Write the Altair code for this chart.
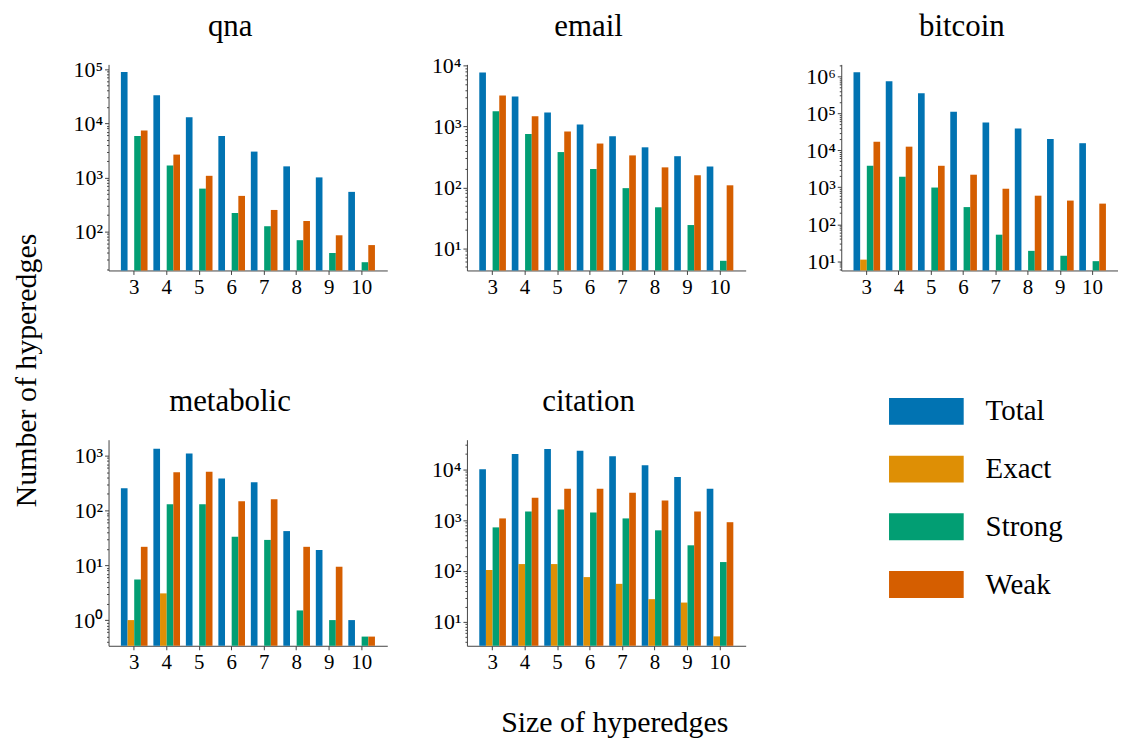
import math
import altair as alt
import pandas as pd

FONT = "Liberation Serif"

sizes = [3, 4, 5, 6, 7, 8, 9, 10]
series = ["Total", "Exact", "Strong", "Weak"]
colors = ["#0173b2", "#de8f05", "#029e73", "#d55e00"]

qna_total = [89000, 33000, 13000, 5800, 3000, 1600, 1000, 540]
qna_exact = [None, None, None, None, None, None, None, None]
qna_strong = [5800, 1660, 620, 220, 125, 69, 40, 27]
qna_weak = [7400, 2640, 1070, 455, 250, 156, 85, 56]

email_total = [7700, 3100, 1700, 1080, 690, 455, 325, 220]
email_exact = [None, None, None, None, None, None, None, None]
email_strong = [1780, 750, 380, 200, 97, 47, 24, 6.2]
email_weak = [3250, 1470, 830, 525, 335, 213, 158, 108]

bitcoin_total = [1280000, 740000, 350000, 110000, 56000, 39000, 20000, 15500]
bitcoin_exact = [11, None, None, None, None, None, None, None]
bitcoin_strong = [3800, 1920, 980, 290, 52, 19, 14, 10]
bitcoin_weak = [17000, 12500, 3800, 2180, 910, 590, 435, 360]

metabolic_total = [253, 1340, 1090, 383, 325, 42, 19, 1]
metabolic_exact = [1, 3.07, None, None, None, None, None, None]
metabolic_strong = [5.5, 130, 130, 33, 29, 1.5, 1, 0.5]
metabolic_weak = [21.7, 495, 510, 147, 160, 21.7, 9.4, 0.5]

citation_total = [10000, 20000, 25000, 23000, 18000, 12000, 7000, 4150]
citation_exact = [105, 137, 137, 76, 56, 28, 24, 5.2]
citation_strong = [720, 1480, 1620, 1410, 1080, 630, 320, 150]
citation_weak = [1080, 2750, 4150, 4150, 3450, 2420, 1480, 910]

PANEL_H = 207
Y_LABEL_SIZE = 22

L = "(log(datum.value)/LN10)"
IS_MAJOR = f"abs({L} - round({L})) < 0.001"
SUP = ["⁰", "¹", "²", "³", "⁴", "⁵", "⁶"]
major_label = "''"
for e in range(len(SUP) - 1, -1, -1):
    major_label = f"round({L}) == {e} ? '10{SUP[e]}' : ({major_label})"
label_expr = f"{IS_MAJOR} ? ({major_label}) : ''"


def log_ticks(lo, hi):
    vals = []
    for e in range(-2, 8):
        for m in range(1, 10):
            v = m * 10.0 ** e
            v = float(f"{v:.6g}")
            if lo <= v <= hi:
                vals.append(v)
    return vals


def panel(name, total, exact, strong, weak, domain, width=280):
    rows = []
    for s, vals in zip(series, [total, exact, strong, weak]):
        for k, v in zip(sizes, vals):
            if v is not None:
                rows.append({"size": k, "series": s, "value": v})
    df = pd.DataFrame(rows)
    ticks = log_ticks(domain[0], domain[1])
    top = max(ticks)
    pos = (math.log10(domain[1]) - math.log10(top)) / (math.log10(domain[1]) - math.log10(domain[0])) * PANEL_H
    overhang = max(0.0, Y_LABEL_SIZE / 2 - pos)
    return (
        alt.Chart(df)
        .mark_bar()
        .encode(
            x=alt.X(
                "size:O",
                scale=alt.Scale(domain=sizes, paddingInner=0.18, paddingOuter=0.38),
                axis=alt.Axis(title=None, labelAngle=0, tickSize=4, labelPadding=2, labelFontSize=21),
            ),
            xOffset=alt.XOffset(
                "series:N", scale=alt.Scale(domain=series, paddingInner=0, paddingOuter=0)
            ),
            y=alt.Y(
                "value:Q",
                scale=alt.Scale(type="log", domain=domain),
                axis=alt.Axis(
                    title=None,
                    values=ticks,
                    labelExpr=label_expr,
                    labelOverlap=False,
                    tickSize={"condition": {"test": IS_MAJOR, "value": 4}, "value": 2},
                    labelPadding=2,
                    labelFontSize=Y_LABEL_SIZE,
                ),
            ),
            y2=alt.Y2(datum=domain[0]),
            color=alt.Color(
                "series:N",
                scale=alt.Scale(domain=series, range=colors),
                sort=series,
                legend=alt.Legend(
                    title=None,
                    orient="none",
                    legendX=807,
                    legendY=334,
                    symbolType="M-2.778,-1L2.778,-1L2.778,1L-2.778,1Z",
                    symbolSize=729,
                    symbolStrokeWidth=0,
                    symbolOpacity=1,
                    labelFont=FONT,
                    labelFontSize=29,
                    labelColor="black",
                    labelOffset=45,
                    rowPadding=28,
                ),
            ),
        )
        .properties(
            width=width,
            height=PANEL_H,
            title=alt.TitleParams(name, frame="bounds", anchor="middle", offset=22, dy=overhang),
        )
    )


p1 = panel("qna", qna_total, qna_exact, qna_strong, qna_weak, [19, 123000])
p2 = panel("email", email_total, email_exact, email_strong, email_weak, [4.3, 10500])
p3 = panel("bitcoin", bitcoin_total, bitcoin_exact, bitcoin_strong, bitcoin_weak, [5.6, 2100000], width=278)
p4 = panel("metabolic", metabolic_total, metabolic_exact, metabolic_strong, metabolic_weak, [0.34, 1950])
p5 = panel("citation", citation_total, citation_exact, citation_strong, citation_weak, [3.4, 38000])

row1 = alt.hconcat(alt.hconcat(p1, p2, spacing=44), p3, spacing=60)
row2 = alt.hconcat(p4, p5, spacing=44)

grid = alt.vconcat(row1, row2, spacing=89).properties(
    title=alt.TitleParams("Number of hyperedges", orient="left", anchor="middle", offset=31, fontSize=30, dx=-29)
)

chart = (
    alt.vconcat(grid)
    .properties(
        title=alt.TitleParams("Size of hyperedges", orient="bottom", anchor="middle", offset=36, fontSize=30, dx=50),
        padding={"left": 3, "top": 0, "right": 0, "bottom": 0},
    )
    .configure(font=FONT)
    .configure_view(stroke=None)
    .configure_axis(
        labelFont=FONT,
        labelColor="black",
        domainColor="#444444",
        tickColor="#444444",
        grid=False,
    )
    .configure_title(font=FONT, fontSize=31, fontWeight="normal", color="black")
)

chart.save("out.html", embed_options={"renderer": "svg", "actions": False})
